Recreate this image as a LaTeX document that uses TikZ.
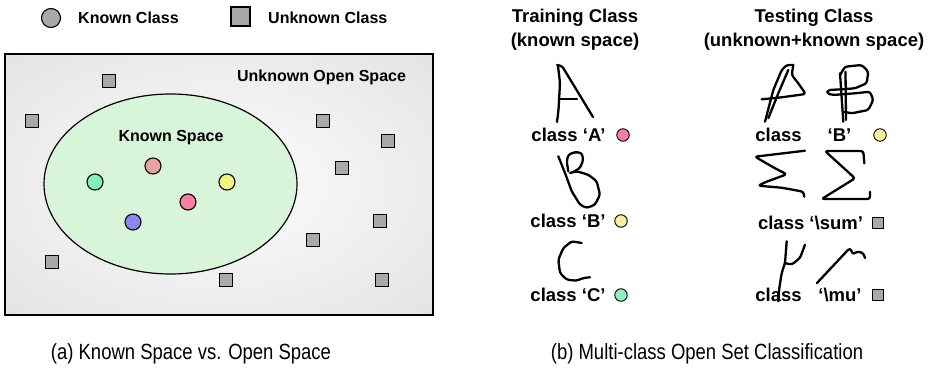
\documentclass[tikz,border=0pt]{standalone}
\usepackage{fontspec}
\setmainfont{Liberation Sans}
\definecolor{sqgray}{HTML}{A9A9A9}
\definecolor{ellgreen}{HTML}{D9F5D9}
\definecolor{cpinkl}{HTML}{E9A3A3}
\definecolor{cgreen}{HTML}{80F2B8}
\definecolor{cyellow}{HTML}{F2F282}
\definecolor{cpink}{HTML}{F77FA0}
\definecolor{cblue}{HTML}{8888EE}
\definecolor{cyellowl}{HTML}{F8F0A0}
\definecolor{cgreenl}{HTML}{90F2C0}
\pgfdeclareradialshading{boxshade}{\pgfpoint{0bp}{0bp}}{color(0bp)=(black!3); color(12bp)=(black!4); color(50bp)=(black!15); color(71bp)=(black!20)}
\begin{document}
\begin{tikzpicture}[x=1pt,y=-1pt,
  known/.style={circle, draw=black, line width=1.1pt, minimum size=16pt, inner sep=0pt},
  smallknown/.style={circle, draw=black, line width=0.9pt, minimum size=12.5pt, inner sep=0pt},
  unk/.style={rectangle, draw=black, line width=1.1pt, fill=sqgray, minimum size=13pt, inner sep=0pt},
  smallunk/.style={rectangle, draw=black, line width=0.9pt, fill=sqgray, minimum size=11pt, inner sep=0pt},
  lbl/.style={font=\bfseries\fontsize{16}{18}\selectfont, inner sep=0pt},
  rlbl/.style={font=\bfseries\fontsize{18.5}{21}\selectfont, inner sep=0pt},
  glyph/.style={line width=2.3pt, line join=round, line cap=round, rounded corners=2.5pt},
  capt/.style={font=\fontsize{22}{24}\selectfont, inner sep=0pt}]
\useasboundingbox (0,0) rectangle (940,372);

% legend
\node[circle, draw=black, line width=1.1pt, fill=sqgray, minimum size=19pt, inner sep=0pt] (lk) at (51,18) {};
\node[lbl, anchor=west] (lkt) at (78,18) {Known Class};
\node[rectangle, draw=black, line width=1.1pt, fill=sqgray, minimum size=19pt, inner sep=0pt] (lu) at (240.5,16.5) {};
\node[lbl, anchor=west] (lut) at (268,18) {Unknown Class};

% open space box
\shade[shading=boxshade, draw=black, line width=1.2pt] (5,54) rectangle (433,315);
\node[lbl] (open) at (321.5,77) {Unknown Open Space};

% known space ellipse
\draw[fill=ellgreen, line width=1.2pt] (170.5,184) ellipse [x radius=126.5, y radius=90];
\node[lbl] (ks) at (171,138) {Known Space};

\node[known, fill=cpinkl] (k1) at (153,166) {};
\node[known, fill=cgreen] (k2) at (95,182) {};
\node[known, fill=cyellow] (k3) at (227,182) {};
\node[known, fill=cpink] (k4) at (188,202) {};
\node[known, fill=cblue] (k5) at (133,222) {};

\node[unk] (u1) at (109,81) {};
\node[unk] (u2) at (32,121) {};
\node[unk] (u3) at (323,121) {};
\node[unk] (u4) at (388,141) {};
\node[unk] (u5) at (342,168) {};
\node[unk] (u6) at (380,221) {};
\node[unk] (u7) at (313,240) {};
\node[unk] (u8) at (52,262) {};
\node[unk] (u9) at (226,280) {};
\node[unk] (u10) at (382,280) {};

% right panel titles
\node[rlbl] (tr1) at (575,18) {Training Class};
\node[rlbl] (tr2) at (575,42) {(known space)};
\node[rlbl] (te1) at (814,18) {Testing Class};
\node[rlbl] (te2) at (814,42) {(unknown+known space)};

% training glyphs
\draw[glyph] (558,66) -- (560,83) -- (558.5,110) -- (557,122);
\draw[glyph] (557,65) -- (562,66) -- (593,117);
\draw[glyph] (560,99) -- (577,99);

\draw[glyph] (558.3,156.3) -- (565,173) -- (571.7,191.3) -- (580,204.7) -- (586.7,208) -- (595,204.7) -- (600,194.7) -- (596.7,181.3) -- (588.3,174.7) -- (576.7,171.3) -- (570,173);
\draw[glyph] (568.3,171.3) -- (566.7,161.3) -- (568.3,154.7) -- (575,152) -- (581.7,153) -- (583.3,159.7) -- (580,168) -- (573.3,172);

\draw[glyph] (581.7,243) -- (571.7,241.3) -- (563.3,248) -- (558.3,259.7) -- (560,273) -- (566.7,279.7) -- (576.7,280.7) -- (583.3,278) -- (590,277.3);

\node[rlbl] (ca) at (568.5,135) {class ‘A’};
\node[smallknown, fill=cpink] (cac) at (623,135) {};
\node[rlbl] (cb) at (568,221) {class ‘B’};
\node[smallknown, fill=cyellowl] (cbc) at (621,221) {};
\node[rlbl] (cc) at (568,295) {class ‘C’};
\node[smallknown, fill=cgreenl] (ccc) at (621,295) {};

% testing glyphs
\draw[glyph] (765,121.7) -- (773.3,90) -- (781.7,70) -- (786.7,65) -- (793.3,65);
\draw[glyph] (768.3,118.3) -- (778.3,93.3) -- (788.3,70);
\draw[glyph] (761.7,99.3) -- (781.7,97.3) -- (805.7,94) -- (798.3,83.3) -- (791.7,75) -- (793.3,65);

\draw[glyph] (840,73.3) -- (843.3,121.7);
\draw[glyph] (845.5,71.7) -- (846,120);
\draw[glyph] (840,75) -- (845,66.7) -- (861.7,65) -- (868.3,71.7) -- (866.7,83.3) -- (855,88.3) -- (841.7,89.3) -- (828.3,90) -- (826.7,93.3) -- (833.3,95) -- (855,93.3) -- (870,91.7) -- (873.3,100) -- (868.3,110) -- (851.7,113.3) -- (843.3,111.7);

\draw[glyph] (805,150.7) -- (755,156.7) -- (775,168.3) -- (786.7,174.3) -- (765,182.3) -- (758.3,185.7) -- (781.7,187.7) -- (803.3,191.7) -- (804.3,196.7);
\draw[glyph] (864.3,163.3) -- (863.3,151) -- (825,151) -- (855,178.3) -- (821.7,199) -- (870,199) -- (870,191.7);

\draw[glyph] (786.7,241.3) -- (785,263) -- (781.7,273) -- (779.3,288) -- (778.3,301.3);
\draw[glyph] (785,263) -- (791.7,264.7) -- (800,258) -- (805,244.7);
\draw[glyph] (817,283) -- (846.7,251.3) -- (850,248) -- (853.3,254.7) -- (856.7,251.3) -- (863.3,253) -- (865,258);

\node[rlbl] (t1a) at (778.5,135) {class};
\node[rlbl] (t1b) at (839.5,135) {‘B’};
\node[smallknown, fill=cyellowl] (t1c) at (880,135) {};
\node[rlbl] (t2a) at (810.5,223) {class ‘\textbackslash sum’};
\node[smallunk] (t2c) at (877.5,223) {};
\node[rlbl] (t3a) at (778.5,295) {class};
\node[rlbl] (t3b) at (840,295) {‘\textbackslash mu’};
\node[smallunk] (t3c) at (877.5,295) {};

% captions
\node[capt] (capa) at (191,354) {\scalebox{0.84}[1]{(a) Known Space vs. Open Space}};
\node[capt] (capb) at (707,354) {\scalebox{0.84}[1]{(b) Multi-class Open Set Classification}};
\end{tikzpicture}
\end{document}
